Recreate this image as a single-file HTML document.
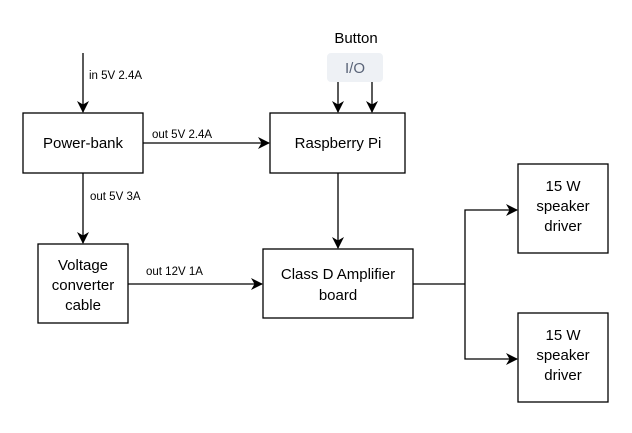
<!DOCTYPE html>
<html><head><style>body{margin:0;background:#fff}</style></head><body>
<svg width="632" height="428" viewBox="0 0 632 428" xmlns="http://www.w3.org/2000/svg" font-family="Liberation Sans, Helvetica, sans-serif">
<defs><marker id="a" markerWidth="12" markerHeight="12" refX="11" refY="6" orient="auto" markerUnits="userSpaceOnUse"><path d="M0,0 L12,6 L0,12 L3.5,6 Z" fill="#000"/></marker></defs>
<g fill="#fff" stroke="#000" stroke-width="1.3">
<rect x="23" y="113" width="120" height="60"/>
<rect x="270" y="113" width="135" height="60"/>
<rect x="38" y="244" width="90" height="79"/>
<rect x="263" y="249" width="150" height="69"/>
<rect x="518" y="164" width="90" height="89"/>
<rect x="518" y="313" width="90" height="89"/>
</g>
<rect x="327" y="53" width="56" height="29" rx="4" fill="#eef1f5"/>
<g stroke="#000" stroke-width="1.3" fill="none">
<line x1="83" y1="53" x2="83" y2="112" marker-end="url(#a)"/>
<line x1="143" y1="143" x2="269" y2="143" marker-end="url(#a)"/>
<line x1="83" y1="173" x2="83" y2="243" marker-end="url(#a)"/>
<line x1="128" y1="284" x2="262" y2="284" marker-end="url(#a)"/>
<line x1="338" y1="173" x2="338" y2="248" marker-end="url(#a)"/>
<line x1="338" y1="82" x2="338" y2="112" marker-end="url(#a)"/>
<line x1="372" y1="82" x2="372" y2="112" marker-end="url(#a)"/>
<polyline points="413,284 465,284"/>
<polyline points="465,284 465,210 517,210" marker-end="url(#a)"/>
<polyline points="465,284 465,359 517,359" marker-end="url(#a)"/>
</g>
<g font-size="15" text-anchor="middle" fill="#000">
<text x="83" y="148">Power-bank</text>
<text x="338" y="148">Raspberry Pi</text>
<text x="83" y="270">Voltage</text>
<text x="83" y="290">converter</text>
<text x="83" y="310">cable</text>
<text x="338" y="279">Class D Amplifier</text>
<text x="338" y="300">board</text>
<text x="563" y="191">15 W</text>
<text x="563" y="211">speaker</text>
<text x="563" y="231">driver</text>
<text x="563" y="340">15 W</text>
<text x="563" y="360">speaker</text>
<text x="563" y="380">driver</text>
<text x="356" y="43">Button</text>
<text x="355" y="73" fill="#5a6478">I/O</text>
</g>
<g font-size="11.5" fill="#000">
<text x="89" y="79">in 5V 2.4A</text>
<text x="152" y="138">out 5V 2.4A</text>
<text x="90" y="200">out 5V 3A</text>
<text x="146" y="275">out 12V 1A</text>
</g>
</svg>
</body></html>
